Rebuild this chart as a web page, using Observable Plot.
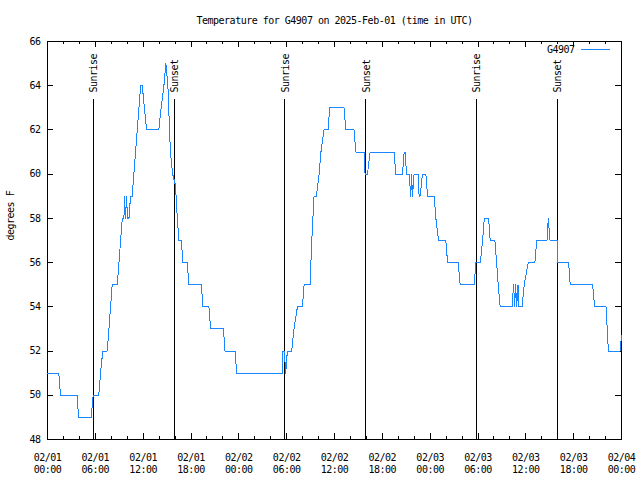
<!DOCTYPE html>
<html><head><meta charset="utf-8">
<script src="https://cdn.jsdelivr.net/npm/d3@7"></script>
<script src="https://cdn.jsdelivr.net/npm/@observablehq/plot@0.6"></script>
<style>
body{margin:0;background:#fff}
svg{display:block}
svg path, svg line{shape-rendering:crispEdges}
</style>
</head><body><div id="chart"></div>
<script>
const station = "G4907";
const titleText = "Temperature for G4907 on 2025-Feb-01 (time in UTC)";
const yLabel = "degrees F";
const xStart = "2025-02-01T00:00";
const xEnd = "2025-02-04T00:00";
const yTicks = [48, 50, 52, 54, 56, 58, 60, 62, 64, 66];

const times = [
 "2025-02-01T00:00","2025-02-01T01:25","2025-02-01T01:38","2025-02-01T03:44","2025-02-01T03:53",
 "2025-02-01T05:29","2025-02-01T05:44","2025-02-01T06:26","2025-02-01T06:39","2025-02-01T06:56",
 "2025-02-01T07:30","2025-02-01T08:07","2025-02-01T08:45","2025-02-01T09:23","2025-02-01T09:35",
 "2025-02-01T09:40","2025-02-01T09:47","2025-02-01T09:55","2025-02-01T10:02","2025-02-01T10:13",
 "2025-02-01T10:25","2025-02-01T10:37","2025-02-01T11:41","2025-02-01T11:53","2025-02-01T12:26",
 "2025-02-01T13:58","2025-02-01T14:15","2025-02-01T14:36","2025-02-01T14:51","2025-02-01T15:06",
 "2025-02-01T15:25","2025-02-01T15:42","2025-02-01T16:03","2025-02-01T16:17","2025-02-01T16:29",
 "2025-02-01T16:47","2025-02-01T16:59","2025-02-01T17:32","2025-02-01T17:44","2025-02-01T19:18",
 "2025-02-01T19:30","2025-02-01T20:15","2025-02-01T20:28","2025-02-01T22:04","2025-02-01T22:16",
 "2025-02-01T23:31","2025-02-01T23:44",
 "2025-02-02T05:28","2025-02-02T05:32","2025-02-02T05:42","2025-02-02T05:53","2025-02-02T06:05",
 "2025-02-02T06:38","2025-02-02T06:55","2025-02-02T07:21","2025-02-02T07:59","2025-02-02T08:11",
 "2025-02-02T08:56","2025-02-02T09:09","2025-02-02T09:26","2025-02-02T09:44","2025-02-02T10:04",
 "2025-02-02T10:18","2025-02-02T10:41","2025-02-02T11:11","2025-02-02T11:24","2025-02-02T13:12",
 "2025-02-02T13:25","2025-02-02T14:28","2025-02-02T14:40","2025-02-02T15:43","2025-02-02T15:50",
 "2025-02-02T16:08","2025-02-02T16:28","2025-02-02T19:29","2025-02-02T19:41","2025-02-02T20:32",
 "2025-02-02T20:44","2025-02-02T20:52","2025-02-02T21:02","2025-02-02T21:22","2025-02-02T21:34",
 "2025-02-02T21:40","2025-02-02T21:47","2025-02-02T21:59","2025-02-02T22:29","2025-02-02T22:37",
 "2025-02-02T22:44","2025-02-02T23:02","2025-02-02T23:28","2025-02-02T23:40",
 "2025-02-03T00:30","2025-02-03T00:43","2025-02-03T01:03","2025-02-03T01:58","2025-02-03T02:11",
 "2025-02-03T03:31","2025-02-03T03:46","2025-02-03T05:31","2025-02-03T05:44","2025-02-03T06:17",
 "2025-02-03T06:35","2025-02-03T06:47","2025-02-03T07:20","2025-02-03T07:32","2025-02-03T08:07",
 "2025-02-03T08:20","2025-02-03T08:32","2025-02-03T08:47","2025-02-03T10:16","2025-02-03T10:28",
 "2025-02-03T10:36","2025-02-03T10:43","2025-02-03T10:51","2025-02-03T11:01","2025-02-03T11:08",
 "2025-02-03T11:31","2025-02-03T11:48","2025-02-03T12:18","2025-02-03T13:08","2025-02-03T13:22",
 "2025-02-03T14:39","2025-02-03T14:49","2025-02-03T15:02","2025-02-03T15:55","2025-02-03T16:02",
 "2025-02-03T17:22","2025-02-03T17:34","2025-02-03T20:23","2025-02-03T20:38","2025-02-03T22:04",
 "2025-02-03T22:21","2025-02-03T23:49","2025-02-04T00:00"
];
const temps = [
 51,51,50,50,49,
 49,50,50,51,52,
 52,55,55,58,58,
 59,58,59,58,58,
 59,59,64,64,62,
 62,63,64,65,64,
 61,60,59.5,58,57,
 57,56,56,55,55,
 54,54,53,53,52,
 52,51,
 51,52,52,51,52,
 52,53,54,54,55,
 55,57,59,59,60,
 61,62,62,63,63,
 62,62,61,61,60,
 60,61,61,60,60,
 61,61,60,60,59,
 60,59,60,60,59,
 59,60,60,59,
 59,58,57,57,56,
 56,55,55,56,56,
 57,58,58,57,57,
 56,55,54,54,55,
 54,55,54,55,54,
 54,55,56,56,57,
 57,58,57,57,56,
 56,55,55,54,54,
 52,52,52.7
];
const sunriseTimes = ["2025-02-01T05:44", "2025-02-02T05:46", "2025-02-03T05:45"];
const sunsetTimes = ["2025-02-01T15:53", "2025-02-02T15:57", "2025-02-03T15:56"];

const parse = d3.utcParse("%Y-%m-%dT%H:%M");
const data = times.map((t, i) => ({time: parse(t), temp: temps[i]}));
const events = [
  ...sunriseTimes.map(t => ({time: parse(t), label: "Sunrise"})),
  ...sunsetTimes.map(t => ({time: parse(t), label: "Sunset"}))
];
const lineColor = "#1a86ff";
const fmt = d3.utcFormat("%m/%d\n%H:%M");
const x0 = parse(xStart), x1 = parse(xEnd);
const majorX = d3.utcHour.every(6).range(x0, +x1 + 1);
const minorX = d3.utcHour.every(2).range(x0, +x1 + 1);

// frame geometry (margins) used for inward tick lengths
const W = 640, H = 480, mL = 47, mR = 19, mT = 41, mB = 41;
const fw = W - mL - mR, fh = H - mT - mB;
const major = 6, minor = 3;

const chart = Plot.plot({
  width: W, height: H,
  marginLeft: mL, marginRight: mR, marginTop: mT, marginBottom: mB,
  style: {fontFamily: "'DejaVu Sans Mono', monospace", fontSize: "10px", letterSpacing: "-0.5px", color: "#000", background: "#fff"},
  x: {type: "utc", domain: [x0, x1]},
  y: {domain: [48, 66]},
  marks: [
    Plot.frame({stroke: "#000"}),
    // inward tick marks on all four sides
    Plot.ruleX(minorX, {stroke: "#000", insetTop: fh - minor}),
    Plot.ruleX(majorX, {stroke: "#000", insetTop: fh - major}),
    Plot.ruleX(minorX, {stroke: "#000", insetBottom: fh - minor}),
    Plot.ruleX(majorX, {stroke: "#000", insetBottom: fh - major}),
    Plot.ruleY(yTicks, {stroke: "#000", insetRight: fw - major}),
    Plot.ruleY(yTicks, {stroke: "#000", insetLeft: fw - major}),
    // tick labels
    Plot.axisX({anchor: "bottom", ticks: majorX, tickSize: 0, tickPadding: 13, tickFormat: fmt, lineHeight: 1.2, label: null}),
    Plot.axisY({anchor: "left", ticks: yTicks, tickSize: 0, tickPadding: 7, label: null}),
    // sunrise / sunset markers
    Plot.ruleX(events, {x: "time", stroke: "#000", insetTop: 58}),
    Plot.text(events, {x: "time", text: "label", frameAnchor: "top", rotate: -90, textAnchor: "start", lineAnchor: "middle", dy: 51, dx: 1}),
    // data
    Plot.line(data, {x: "time", y: "temp", stroke: lineColor, strokeWidth: 1}),
    // titles and legend label
    Plot.text([titleText], {frameAnchor: "top", lineAnchor: "middle", dy: -21}),
    Plot.text([yLabel], {frameAnchor: "left", rotate: -90, dx: -37}),
    Plot.text([station], {frameAnchor: "top-right", lineAnchor: "middle", dx: -47, dy: 8, textAnchor: "end"})
  ]
});

// legend swatch
d3.select(chart).append("line")
  .attr("x1", 581).attr("x2", 610).attr("y1", 49.5).attr("y2", 49.5)
  .attr("stroke", lineColor).attr("stroke-width", 1);

document.getElementById("chart").append(chart);
</script>
</body></html>
